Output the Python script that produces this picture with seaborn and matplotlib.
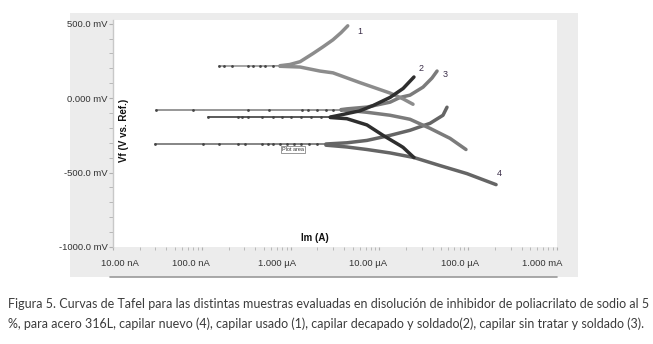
import numpy as np
import pandas as pd
import matplotlib
matplotlib.use("Agg")
import matplotlib.pyplot as plt
import matplotlib.ticker as mticker
from matplotlib.lines import Line2D
import seaborn as sns

# --- data (current in A, potential in mV) ---
# curve 1: capilar usado
flat_i1 = [1.56e-7, 1.78e-7, 2.2e-7, 3.3e-7, 3.8e-7, 4.5e-7, 5.2e-7, 6.3e-7, 7.6e-7]
flat_e1 = [216, 216, 216, 216, 216, 216, 216, 217, 217]
anod_i1 = [7.6e-7, 9.8e-7, 1.28e-6, 1.79e-6, 2.32e-6, 3.0e-6, 3.7e-6, 4.4e-6]
anod_e1 = [218, 226, 245, 300, 345, 392, 440, 486]
cath_i1 = [7.6e-7, 1.28e-6, 2.14e-6, 3.0e-6, 6.05e-6, 1.32e-5, 1.85e-5, 2.39e-5]
cath_e1 = [214, 209, 182, 170, 104, 34, -5, -41]

# curve 2: capilar decapado y soldado
flat_i2 = [1.17e-7, 2.56e-7, 2.8e-7, 3.3e-7, 4.76e-7, 6.3e-7, 8e-7, 1.0e-6, 1.3e-6, 1.7e-6, 2.2e-6, 2.8e-6]
flat_e2 = [-128] * 12
anod_i2 = [2.8e-6, 3.33e-6, 6.05e-6, 8.47e-6, 1.32e-5, 1.85e-5, 2.45e-5]
anod_e2 = [-127, -118, -85, -50, 5, 65, 142]
cath_i2 = [2.8e-6, 4.3e-6, 7.24e-6, 1.1e-5, 1.71e-5, 1.85e-5, 2.45e-5]
cath_e2 = [-130, -138, -180, -250, -318, -331, -399]

# curve 3: capilar sin tratar y soldado
flat_i3 = [3.05e-8, 7.9e-8, 3.3e-7, 5.7e-7, 1.34e-6, 1.57e-6, 1.99e-6, 2.5e-6, 3.0e-6, 3.7e-6]
flat_e3 = [-78] * 10
anod_i3 = [3.7e-6, 4.3e-6, 7.24e-6, 1.32e-5, 1.71e-5, 2.21e-5, 3.1e-5, 3.91e-5, 4.46e-5]
anod_e3 = [-77, -72, -60, -27, 5, 20, 74, 135, 182]
cath_i3 = [3.7e-6, 4.3e-6, 7.24e-6, 1.32e-5, 2.21e-5, 3.72e-5, 6.24e-5, 9.44e-5]
cath_e3 = [-79, -82, -95, -115, -142, -203, -270, -345]

# curve 4: capilar nuevo
flat_i4 = [2.97e-8, 1.03e-7, 1.56e-7, 2.56e-7, 3.06e-7, 4.76e-7, 5.5e-7, 6.34e-7, 7.6e-7,
           9e-7, 1.1e-6, 1.3e-6, 1.6e-6, 2.0e-6, 2.5e-6]
flat_e4 = [-311] * 15
anod_i4 = [2.5e-6, 4.3e-6, 7.24e-6, 1.32e-5, 2.21e-5, 3.72e-5, 5.2e-5, 5.77e-5]
anod_e4 = [-308, -300, -284, -250, -216, -169, -115, -61]
cath_i4 = [2.5e-6, 4.3e-6, 7.24e-6, 1.32e-5, 2.45e-5, 4.81e-5, 9.68e-5, 2.06e-4]
cath_e4 = [-316, -328, -345, -368, -399, -453, -507, -581]

curve_names = ["1", "2", "3", "4"]
curve_colors = ["#8c8c8c", "#2e2e2e", "#7b7b7b", "#656565"]
label_i = [5.6e-6, 2.79e-5, 5.2e-5, 2.11e-4]
label_e = [446, 196, 162, -507]

ytick_vals = [500, 0, -500, -1000]
ytick_labels = ["500.0 mV", "0.000 mV", "-500.0 mV", "-1000.0 mV"]
xtick_vals = [1e-8, 1e-7, 1e-6, 1e-5, 1e-4, 1e-3]
xtick_labels = ["10.00 nA", "100.0 nA", "1.000 \u00b5A", "10.00 \u00b5A", "100.0 \u00b5A", "1.000 mA"]

caption = ("Figura 5. Curvas de Tafel para las distintas muestras evaluadas en disoluci\u00f3n de inhibidor de poliacrilato de sodio al 5\n"
           "%, para acero 316L, capilar nuevo (4), capilar usado (1), capilar decapado y soldado(2), capilar sin tratar y soldado (3).")

# --- build long tables ---
flats = [(flat_i1, flat_e1), (flat_i2, flat_e2), (flat_i3, flat_e3), (flat_i4, flat_e4)]
branches = [[(anod_i1, anod_e1), (cath_i1, cath_e1)],
            [(anod_i2, anod_e2), (cath_i2, cath_e2)],
            [(anod_i3, anod_e3), (cath_i3, cath_e3)],
            [(anod_i4, anod_e4), (cath_i4, cath_e4)]]

sns.set_style("white")
plt.rcParams["font.family"] = ["Liberation Sans", "DejaVu Sans"]

fig = plt.figure(figsize=(6.53, 3.44), dpi=100)

# gray chart panel behind the plot area
bg = fig.add_axes([70 / 653, 67 / 344, 508 / 653, 264 / 344])
bg.set_facecolor("#ececec")
bg.set_xticks([])
bg.set_yticks([])
for s in bg.spines.values():
    s.set_visible(False)
fig.lines.append(Line2D([110 / 653, 557 / 653], [67 / 344, 67 / 344],
                        transform=fig.transFigure, color="#9a9a9a", lw=1.2))

ax = fig.add_axes([113 / 653, 97 / 344, 444 / 653, 227 / 344])
ax.set_facecolor("white")

# draw in order 4, 3, 1, 2 so the dark curve sits on top like the original
for k in [3, 2, 0, 1]:
    col = curve_colors[k]
    fi, fe = flats[k]
    df = pd.DataFrame({"I": fi, "E": fe})
    sns.lineplot(data=df, x="I", y="E", ax=ax, color=col, lw=1.1, sort=False,
                 estimator=None, marker="o", markersize=2.0, markeredgewidth=0,
                 markerfacecolor="#444444")
    for bi, be in branches[k]:
        dfb = pd.DataFrame({"I": bi, "E": be})
        sns.lineplot(data=dfb, x="I", y="E", ax=ax, color=col, lw=2.5, sort=False,
                     estimator=None)
    ax.text(label_i[k], label_e[k], curve_names[k], fontsize=6.5, color="#3a2d48",
            ha="left", va="center")

ax.set_xscale("log")
ax.set_xlim(1e-8, 1e-3)
ax.set_ylim(-1000, 525)

ax.set_xticks(xtick_vals)
ax.set_xticklabels([])
ax.xaxis.set_minor_locator(mticker.LogLocator(base=10, subs=np.arange(2, 10)))
ax.xaxis.set_minor_formatter(mticker.NullFormatter())
ax.tick_params(axis="x", which="both", length=2, color="#b0b0b0")

# the original labels sit a little left of their ticks
label_shift_px = [7, -11, -14, -11, -8, -15]
for xv, lab, dx in zip(xtick_vals, xtick_labels, label_shift_px):
    ax.annotate(lab, xy=(xv, 0), xycoords=("data", "axes fraction"),
                xytext=(dx * 0.72, -16 * 0.72), textcoords="offset points",
                fontsize=6.8, color="#333333", ha="center", va="center",
                annotation_clip=False)

ax.set_yticks(ytick_vals)
ax.set_yticklabels(ytick_labels, fontsize=6.8, color="#333333")
ax.yaxis.set_minor_locator(mticker.MultipleLocator(100))
ax.tick_params(axis="y", which="major", length=3, color="#b0b0b0", pad=1)
ax.tick_params(axis="y", which="minor", length=3, color="#b0b0b0")
ax.tick_params(which="both", bottom=True, left=True, direction="out")

for s in ["top", "right", "bottom"]:
    ax.spines[s].set_visible(False)
ax.spines["left"].set_color("#c8c8c8")
ax.spines["left"].set_linewidth(1.0)

ax.set_xlabel("")
ax.set_ylabel("")
ax.text(0.024, 0.515, "Vf (V vs. Ref.)", transform=ax.transAxes, rotation=90,
        fontsize=7, fontweight="bold", ha="center", va="center", color="#111111")
ax.text(0.455, 0.04, "Im (A)", transform=ax.transAxes, fontsize=7,
        fontweight="bold", ha="center", va="center", color="#111111")
ax.text(8e-7, -345, "Plot area", fontsize=4, color="#333333", ha="left", va="center",
        bbox=dict(boxstyle="square,pad=0.25", facecolor="white", edgecolor="#888888", lw=0.6))

fig.text(8 / 653, 1 - 314 / 344, caption, fontsize=9.0, color="#3c3c3c",
         family=["Lato", "DejaVu Sans"], ha="left", va="center", linespacing=1.75)

fig.savefig("out.png", dpi=100)
